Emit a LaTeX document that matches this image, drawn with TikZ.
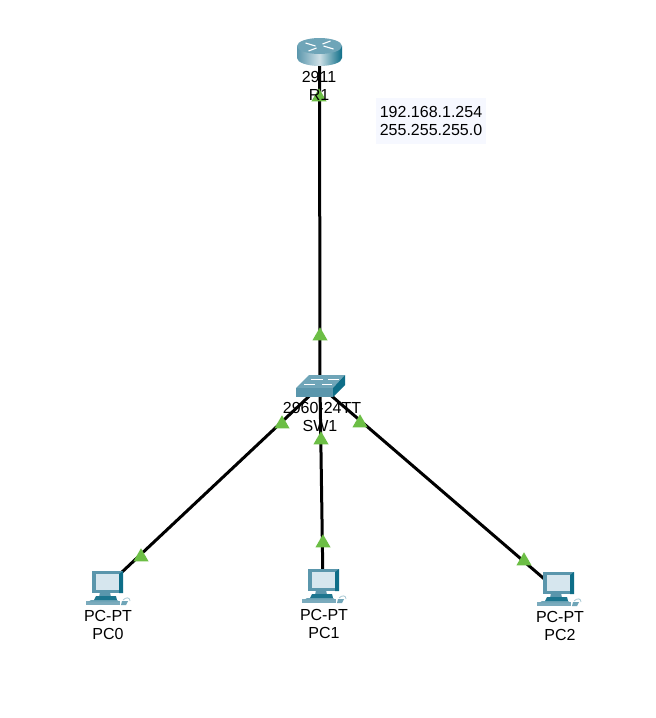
\documentclass[tikz,border=0pt]{standalone}
\usepackage{fontspec}
\setmainfont{Liberation Sans}
\usepackage{xcolor}
\definecolor{linkgreen}{RGB}{108,190,69}
\definecolor{tealtop}{RGB}{111,165,184}
\definecolor{tealmid}{RGB}{90,150,172}
\definecolor{tealdark}{RGB}{14,110,136}
\definecolor{tealpale}{RGB}{214,230,238}
\definecolor{ipfill}{RGB}{246,248,255}
\usetikzlibrary{shapes.geometric}
\tikzset{
  lbl/.style={font=\fontsize{16}{18}\selectfont, text=black, inner sep=0pt},
  hub/.style={inner sep=0pt, minimum size=2pt},
  wire/.style={draw=black, line width=3pt},
  updot/.style={regular polygon, regular polygon sides=3, fill=linkgreen, inner sep=0pt, minimum size=17.5pt},
  routericon/.pic={
    \shade[left color=tealmid, right color=tealdark, middle color=white!70!tealmid]
      (-22.5,-5) -- (-22.5,7) arc[start angle=180,end angle=0,x radius=22.5,y radius=8] -- (22.5,-5) -- cycle;
    \fill[tealtop] (0,-5) ellipse[x radius=22.5,y radius=8];
    \draw[white,line width=1.1pt] (-14,-8) -- (-4,-5) (14,-2) -- (4,-5)
      (-3,-3) -- (-11,0) (3,-7) -- (11,-10);
  },
  switchicon/.pic={
    \fill[tealtop] (-24,2) -- (-11,-11) -- (25,-11) -- (13,2) -- cycle;
    \fill[tealmid] (-24,2) -- (13,2) -- (13,11) -- (-24,11) -- cycle;
    \fill[tealdark] (13,2) -- (25,-11) -- (25,-1) -- (13,11) -- cycle;
    \draw[white,line width=0.8pt] (-9,-7) -- (3,-7) (8,-7) -- (19,-7)
      (-16,-2) -- (-5,-2) (2,-2) -- (12,-2);
  },
  pcicon/.pic={
    \fill[tealmid!80!white] (-19,13) -- (15,13) -- (15,17) -- (-19,17) -- cycle;
    \fill[tealtop] (-14,12) -- (12,12) -- (15,14) -- (-17,14) -- cycle;
    \fill[tealmid] (-5,4) -- (5,4) -- (6,9) -- (-6,9) -- cycle;
    \fill[tealdark!80!tealmid] (-9,8) -- (11,8) -- (12,12) -- (-11,12) -- cycle;
    \fill[tealmid] (-13,-17) -- (18,-17) -- (18,5) -- (-13,5) -- cycle;
    \fill[tealdark] (14,-14) -- (18,-17) -- (18,5) -- (14,5) -- cycle;
    \fill[tealpale] (-9,-14) -- (14,-14) -- (14,2) -- (-9,2) -- cycle;
    \fill[tealtop] (17,13) -- (23,13) -- (21,17) -- (16,17) -- cycle;
    \draw[tealtop!60!white,line width=0.8pt] (18,12) .. controls (21,9) and (25,9) .. (25,13);
  },
}
\begin{document}
\begin{tikzpicture}[x=1pt,y=-1pt]
  \useasboundingbox (0,0) rectangle (656,718);
  \fill[white] (0,0) rectangle (656,718);
  %% devices
  \node[hub] (R1) at (319.5,51) {};
  \node[hub] (SW1) at (320,386) {};
  \node[hub] (PC0) at (105,588) {};
  \node[hub] (PC1) at (323,586) {};
  \node[hub] (PC2) at (556,589) {};
  %% links
  \draw[wire] (R1) -- (SW1);
  \draw[wire] (SW1) -- (PC0);
  \draw[wire] (SW1) -- (PC1);
  \draw[wire] (SW1) -- (PC2);
  %% icons
  \pic at (R1) {routericon};
  \pic at (SW1) {switchicon};
  \pic at (PC0) {pcicon};
  \pic at (321,586) {pcicon};
  \pic at (PC2) {pcicon};
  %% link lights
  \node[updot] (t1) at (319,97) {};
  \node[updot] (t2) at (320,336) {};
  \node[updot] (t3) at (282,424) {};
  \node[updot] (t4) at (141,557) {};
  \node[updot] (t5) at (321,440) {};
  \node[updot] (t6) at (323,543) {};
  \node[updot] (t7) at (360,423) {};
  \node[updot] (t8) at (524,561) {};
  %% labels
  \node[lbl] (R1type) at (319,77) {2911};
  \node[lbl] (R1name) at (319,95) {R1};
  \node[lbl] (SW1type) at (322,408) {2960-24TT};
  \node[lbl] (SW1name) at (320,426) {SW1};
  \node[lbl] (PC0type) at (108,616) {PC-PT};
  \node[lbl] (PC0name) at (108,634) {PC0};
  \node[lbl] (PC1type) at (324,615) {PC-PT};
  \node[lbl] (PC1name) at (324,633) {PC1};
  \node[lbl] (PC2type) at (560,617) {PC-PT};
  \node[lbl] (PC2name) at (560,635) {PC2};
  %% address note
  \node[lbl, fill=ipfill, align=center, minimum width=110pt, minimum height=46pt] (ipnote) at (431,121)
    {192.168.1.254\\255.255.255.0};
\end{tikzpicture}
\end{document}
